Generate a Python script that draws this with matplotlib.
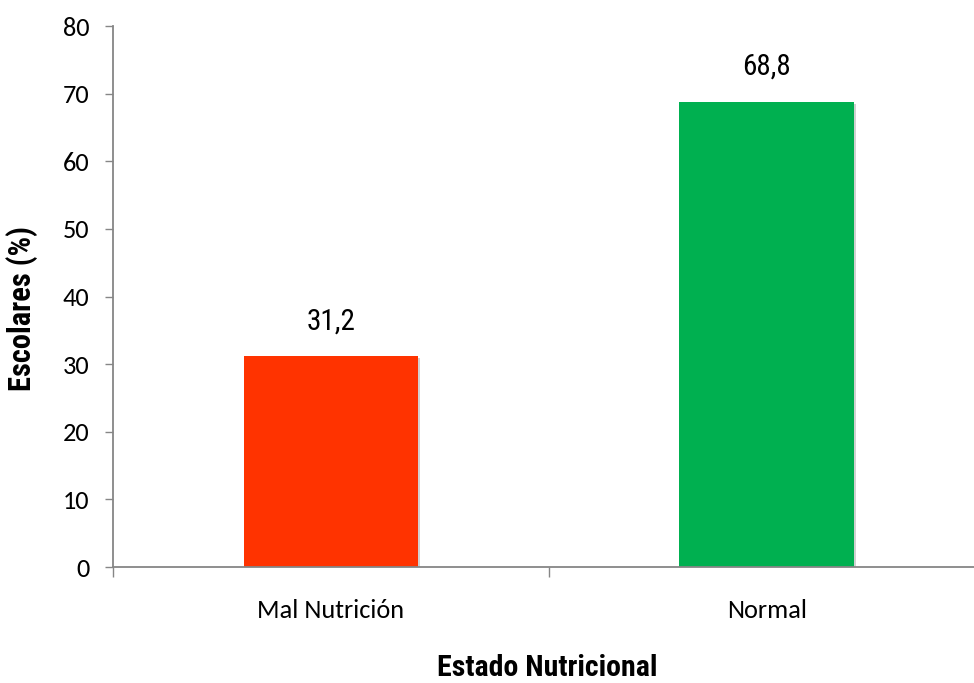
import matplotlib.pyplot as plt
import matplotlib.patheffects as pe

categorias = ['Mal Nutrición', 'Normal']
valores = [31.2, 68.8]
etiquetas = ['31,2', '68,8']
colores = ['#FF3300', '#00B050']

narrow = ['Roboto Condensed', 'DejaVu Sans']
calibri = ['Carlito', 'DejaVu Sans']

fig = plt.figure(figsize=(9.74, 6.83), dpi=100)
ax = fig.add_axes([0.116, 0.1698, 0.8948, 0.792])

x = range(len(categorias))
barras = ax.bar(x, valores, width=0.4, color=colores, zorder=3)
for b in barras:
    b.set_path_effects([pe.SimplePatchShadow(offset=(1.5, -1.5), shadow_rgbFace='#999999', alpha=0.45),
                        pe.Normal()])

for xi, v, t in zip(x, valores, etiquetas):
    ax.annotate(t, (xi, v), xytext=(0, 15), textcoords='offset points',
                ha='center', va='bottom', fontsize=21, family=narrow)

ax.set_xlim(-0.5, 1.5)
ax.set_ylim(0, 80)
ax.set_yticks(range(0, 81, 10))
ax.set_xticks(list(x))
ax.set_xticklabels(categorias, family=calibri, fontsize=19)
ax.set_xticks([-0.5, 0.5, 1.5], minor=True)
ax.tick_params(axis='x', which='major', length=0, pad=23)
ax.tick_params(axis='x', which='minor', length=7, color='#868686', width=1)
ax.tick_params(axis='y', length=6, color='#868686', width=1, pad=11)
for lab in ax.get_yticklabels():
    lab.set_family(calibri)
    lab.set_fontsize(19)

for s in ['top', 'right']:
    ax.spines[s].set_visible(False)
for s in ['left', 'bottom']:
    ax.spines[s].set_color('#868686')
    ax.spines[s].set_linewidth(1.3)
    ax.spines[s].set_zorder(4)

fig.text(22 / 974, 0.549, 'Escolares (%)', family=narrow, fontweight='bold', fontsize=22,
         rotation=90, ha='center', va='center')
fig.text(0.562, 0.002, 'Estado Nutricional', family=narrow, fontweight='bold', fontsize=21.5,
         ha='center', va='bottom')

fig.savefig('out.png', dpi=100)
